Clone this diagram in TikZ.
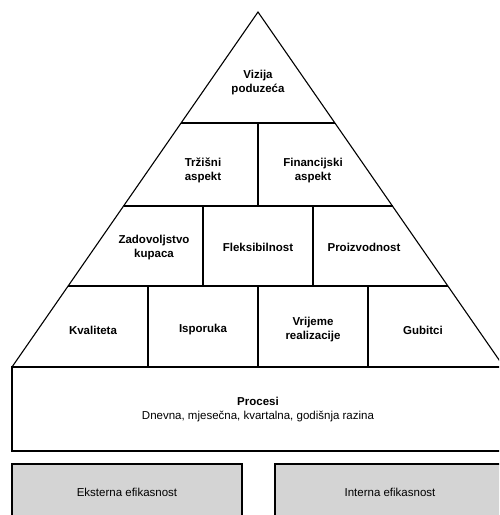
\documentclass[tikz,border=0pt]{standalone}
\usepackage{fontspec}
\setmainfont{Liberation Sans}
\usetikzlibrary{calc}
\definecolor{boxgray}{RGB}{212,212,212}

\begin{document}
\begin{tikzpicture}[x=1pt, y=-1pt, line width=1.1pt,
  cell/.style={font=\fontsize{11.5}{14}\selectfont\bfseries, align=center, inner sep=0pt},
  plain/.style={font=\fontsize{11.5}{14}\selectfont, align=center, inner sep=0pt}]
  % page frame (picture is cut on the right and at the bottom)
  \useasboundingbox (0,0) rectangle (499,515);
  \clip (0,0) rectangle (499,515);

  % Pyramid outline
  \coordinate (apex) at (258,12);
  \coordinate (baseL) at (12,367);
  \coordinate (baseR) at (504,367);
  \draw (baseL) -- (apex) -- (baseR);

  % Row separators
  \draw (181,123) -- (335,123);
  \draw (123.5,206) -- (392.5,206);
  \draw (68,286) -- (448,286);

  % Column separators
  \draw (258,123) -- (258,206);
  \draw (203,206) -- (203,286);
  \draw (313,206) -- (313,286);
  \draw (148,286) -- (148,367);
  \draw (258,286) -- (258,367);
  \draw (368,286) -- (368,367);

  % Processes box and the two efficiency boxes
  \draw (12,367) rectangle (504,451);
  \filldraw[fill=boxgray] (12,464) rectangle (242,530);
  \filldraw[fill=boxgray] (275,464) rectangle (505,530);

  % --- labels ---
  \node[cell] (vizija) at (258,83) {Vizija\\poduzeća};

  \node[cell] (trzisni) at (203,170.5) {Tržišni\\aspekt};
  \node[cell] (financ) at (313,170.5) {Financijski\\aspekt};

  \node[cell] (zadov) at (154,247.5) {Zadovoljstvo\\kupaca};
  \node[cell] (fleks) at (258,247.5) {Fleksibilnost};
  \node[cell] (proiz) at (364,247.5) {Proizvodnost};

  \node[cell] (kval) at (93,330) {Kvaliteta};
  \node[cell] (ispor) at (203,330) {Isporuka};
  \node[cell] (vrij) at (313,330) {Vrijeme\\realizacije};
  \node[cell] (gub) at (423,330) {Gubitci};

  \node[plain] (procesi) at (258,410) {\textbf{Procesi}\\Dnevna, mjesečna, kvartalna, godišnja razina};

  \node[plain] (ekst) at (127,492) {Eksterna efikasnost};
  \node[plain] (inter) at (390,492) {Interna efikasnost};
\end{tikzpicture}
\end{document}
